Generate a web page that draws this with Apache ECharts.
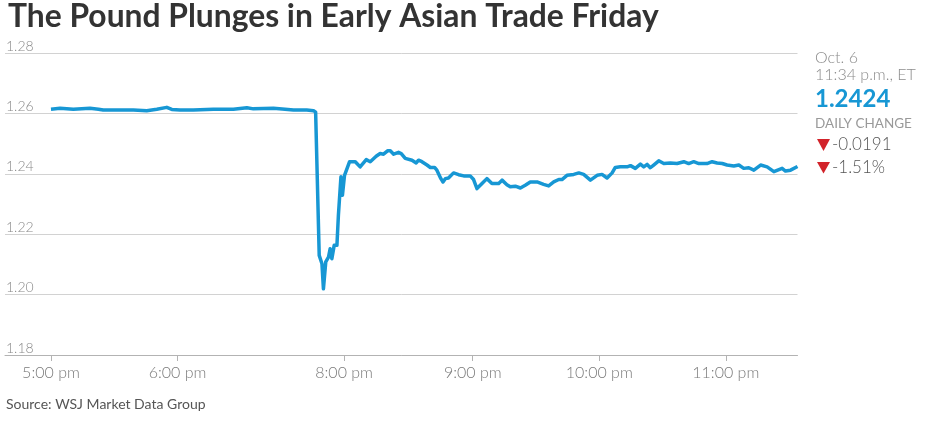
<!DOCTYPE html>
<html>
<head>
<meta charset="utf-8">
<script src="https://cdn.jsdelivr.net/npm/echarts@6/dist/echarts.min.js"></script>
<style>
html,body{margin:0;padding:0;background:#fff;}
#chart{width:935px;height:423px;}
</style>
</head>
<body>
<div id="chart"></div>
<script>
// chart minutes after 5:00 pm (the plot skips part of the 6-8 pm stretch)
const mins = [0,4.3,10.6,18.5,22.5,24.8,32.7,39.1,45.4,50.2,54.9,57.3,61.2,67.5,77,86.5,92.9,96,105.5,111,115,121.3,124.5,125.5,
  126.1,127.2,128.5,129.2,130.3,131.6,132.4,133.2,134.3,135.6,136.3,137.5,138.2,139.2,140,141.6,144.3,146.6,149.5,151.4,154.2,156.1,157.7,159.6,160.9,162.5,164.8,166.1,168,168.8,171.2,173.2,174.3,175.9,178.3,179.9,181.9,183,184.9,185.9,187,188.5,190.9,193.3,195.7,198.8,
  200.4,202,204.4,206.7,209.1,212.3,213.9,216.2,217.8,220.2,222.6,224.9,227.3,230.5,233.6,236,238.4,240.8,242.3,244.7,247.9,250.3,252.6,255.8,259,261.3,263.7,266.1,267.6,270,273.2,274.8,277.1,279.5,281.1,282.7,284.2,285.8,288.2,290.6,293.7,296.9,
  300.1,302.4,304.8,307.2,311.1,313.5,315.9,318.3,320.6,323.8,326.2,328.5,330.9,333.3,336.5,339.6,342.8,345.2,346.7,348.3,350.7,354];
const prices = [1.2614,1.2617,1.2614,1.2617,1.2614,1.2611,1.2611,1.2611,1.2609,1.2614,1.2620,1.2613,1.2611,1.2611,1.2614,1.2614,1.2619,1.2615,1.2617,1.2614,1.2611,1.2611,1.2609,1.2604,
  1.2598,1.2130,1.2102,1.2019,1.2108,1.2124,1.2152,1.2119,1.2163,1.2163,1.2263,1.2390,1.2329,1.2395,1.2401,1.2440,1.2440,1.2423,1.2447,1.2440,1.2458,1.2467,1.2465,1.2476,1.2476,1.2465,1.2471,1.2467,1.2451,1.2456,1.2445,1.2436,1.2445,1.2440,1.2429,1.2421,1.2421,1.2412,1.2384,1.2373,1.2384,1.2386,1.2403,1.2397,1.2393,1.2393,
  1.2381,1.2351,1.2368,1.2384,1.2368,1.2368,1.2379,1.2364,1.2357,1.2359,1.2353,1.2362,1.2373,1.2373,1.2365,1.2360,1.2373,1.2381,1.2381,1.2395,1.2398,1.2403,1.2398,1.2379,1.2395,1.2398,1.2386,1.2403,1.2421,1.2423,1.2423,1.2427,1.2418,1.2432,1.2423,1.2431,1.2420,1.2429,1.2443,1.2434,1.2436,1.2434,
  1.2440,1.2434,1.2440,1.2434,1.2434,1.2440,1.2436,1.2434,1.2429,1.2426,1.2429,1.2418,1.2420,1.2412,1.2429,1.2423,1.2407,1.2414,1.2418,1.2409,1.2412,1.2424];
const tickMins = [0,60,139,200,260,320];
const tickLabels = ['5:00 pm','6:00 pm','8:00 pm','9:00 pm','10:00 pm','11:00 pm'];
const yTicks = [1.18,1.20,1.22,1.24,1.26,1.28];

const titleText = 'The Pound Plunges in Early Asian Trade Friday';
const dateText = 'Oct. 6';
const timeText = '11:34 p.m., ET';
const lastText = '1.2424';
const changeHead = 'DAILY CHANGE';
const changeAbs = '-0.0191';
const changePct = '-1.51%';
const sourceText = 'Source: WSJ Market Data Group';

const BLUE = '#1797d4';
const chart = echarts.init(document.getElementById('chart'), null, {renderer:'canvas'});
const F = 'Lato, "Noto Sans", sans-serif';

chart.setOption({
  animation:false,
  backgroundColor:'#fff',
  grid:{left:5, right:137.5, top:53, bottom:68, containLabel:false},
  xAxis:{
    type:'value', min:-21.8, max:354,
    axisLine:{show:true, lineStyle:{color:'#b3b3b3', width:1}},
    axisTick:{show:true, customValues:tickMins, length:6, lineStyle:{color:'#b3b3b3'}},
    axisLabel:{show:true, customValues:tickMins, margin:10, color:'#7a7a7a', fontFamily:F, fontWeight:300, fontSize:16,
      formatter:function(v){ const i = tickMins.indexOf(v); return i>=0 ? tickLabels[i] : ''; }},
    splitLine:{show:false}
  },
  yAxis:{
    type:'value', min:1.18, max:1.28, interval:0.02,
    axisLine:{show:false}, axisTick:{show:false},
    axisLabel:{inside:true, margin:1, color:'#8a8a8a', fontFamily:F, fontWeight:300, fontSize:14,
      verticalAlign:'bottom', align:'left', showMinLabel:true, showMaxLabel:true,
      formatter:function(v){ return v.toFixed(2); }},
    splitLine:{show:true, lineStyle:{color:'#d2d2d2', width:1}}
  },
  series:[{
    type:'line', showSymbol:false, smooth:false,
    lineStyle:{color:BLUE, width:3.5, join:'round'},
    data: mins.map((m,i)=>[m, prices[i]])
  }],
  graphic:[
    {type:'text', left:8, top:1, style:{text:titleText, fill:'#333', font:'700 31.8px ' + F}},
    {type:'text', x:815, y:58, style:{text:dateText, fill:'#8c8c8c', font:'300 16px ' + F, verticalAlign:'middle'}},
    {type:'text', x:815, y:75, style:{text:timeText, fill:'#8c8c8c', font:'300 16px ' + F, verticalAlign:'middle'}},
    {type:'text', x:815, y:99, style:{text:lastText, fill:BLUE, font:'700 24px ' + F, verticalAlign:'middle'}},
    {type:'text', x:815, y:124, style:{text:changeHead, fill:'#999', font:'400 13.5px ' + F, verticalAlign:'middle'}},
    {type:'polygon', shape:{points:[[817,139],[830,139],[823.5,151]]}, style:{fill:'#d2232a'}},
    {type:'text', x:832, y:145, style:{text:changeAbs, fill:'#555', font:'300 17px ' + F, verticalAlign:'middle'}},
    {type:'polygon', shape:{points:[[817,162],[830,162],[823.5,173.5]]}, style:{fill:'#d2232a'}},
    {type:'text', x:832, y:168, style:{text:changePct, fill:'#555', font:'300 17px ' + F, verticalAlign:'middle'}},
    {type:'text', x:6, y:404, style:{text:sourceText, fill:'#555', font:'400 14px ' + F, verticalAlign:'middle'}}
  ]
});
</script>
</body>
</html>
